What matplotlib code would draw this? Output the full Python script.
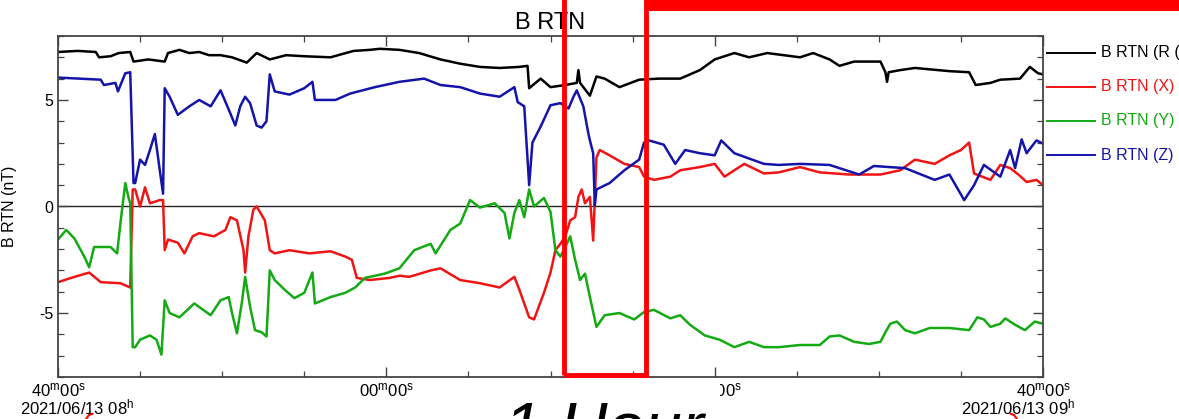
import matplotlib
matplotlib.use('Agg')
import matplotlib.pyplot as plt
from matplotlib.patches import Rectangle, Arc
from matplotlib.lines import Line2D
import matplotlib.transforms as mtransforms

plt.rcParams['font.family'] = ['Liberation Sans', 'DejaVu Sans']
plt.rcParams['mathtext.fontset'] = 'custom'
plt.rcParams['mathtext.rm'] = 'Liberation Sans'
plt.rcParams['mathtext.it'] = 'Liberation Sans:italic'
plt.rcParams['axes.unicode_minus'] = False

# time in minutes after 2021/06/13 08:40:00, field in nT
t_r = [0, 1.2, 2.3, 2.5, 3.2, 3.7, 4.4, 4.6, 5.5, 6.5, 6.7, 7.4, 8.0, 8.6, 9.2, 9.9,
       10.6, 11.5, 12.1, 12.9, 13.9, 15.0, 16.6, 18.0, 19.0, 19.6, 20.8, 22.0, 23.3,
       24.5, 25.7, 26.9, 28.1, 28.6, 28.7, 29.4, 30.0, 30.9, 31.6, 31.7, 31.8, 32.4,
       32.8, 33.3, 34.2, 35.4, 36.6, 37.9, 39.1, 40.0, 41.2, 42.1, 43.2, 45.2, 46.0,
       47.0, 47.6, 48.5, 50.1, 50.4, 50.5, 50.6, 51.3, 52.2, 54.3, 55.5, 55.9, 56.8,
       57.4, 58.6, 59.2, 59.7, 60.0]
b_r = [7.25, 7.3, 7.25, 7.0, 7.05, 7.2, 7.25, 6.8, 6.9, 6.8, 7.2, 7.35, 7.2, 7.25, 7.1, 7.1,
       7.0, 6.75, 7.2, 6.9, 7.1, 7.05, 7.0, 7.3, 7.35, 7.4, 7.35, 7.2, 6.9,
       6.7, 6.55, 6.5, 6.55, 6.6, 5.55, 6.0, 5.6, 5.7, 5.8, 6.4, 5.8, 5.2,
       6.1, 6.0, 5.6, 5.95, 6.0, 6.0, 6.4, 6.9, 7.2, 7.0, 7.2, 7.0, 7.2,
       6.9, 6.6, 6.8, 6.8, 6.3, 5.85, 6.3, 6.4, 6.5, 6.35, 6.3, 5.7, 5.8,
       5.95, 6.0, 6.55, 6.25, 6.2]

t_x = [0, 0.8, 1.9, 2.6, 3.8, 4.4, 4.55, 4.7, 5.0, 5.3, 5.6, 6.2, 6.4, 6.5, 6.7, 7.3,
       7.7, 8.2, 8.6, 9.5, 10.2, 10.5, 10.9, 11.3, 11.4, 11.6, 11.9, 12.1, 12.6, 12.9,
       13.2, 14.1, 15.3, 16.6, 17.5, 17.9, 18.2, 19.0, 20.2, 20.8, 21.4, 22.7, 23.3,
       24.5, 25.7, 26.9, 27.8, 28.1, 28.7, 29.0, 29.6, 30.0, 30.3, 30.6, 30.9, 31.2,
       31.5, 31.7, 31.9, 32.1, 32.4, 32.6, 32.8, 33.0, 33.6, 34.5, 35.4, 35.7, 36.3,
       37.3, 37.9, 39.1, 40.0, 40.6, 41.8, 43.0, 43.9, 45.2, 46.4, 48.2, 50.1, 51.3,
       52.2, 53.4, 54.3, 55.0, 55.5, 55.8, 56.8, 57.4, 58.0, 58.5, 59.0, 59.6, 60.0]
b_x = [-3.55, -3.35, -3.1, -3.55, -3.6, -3.8, 0.8, 0.8, 0.0, 0.9, 0.15, 0.3, 0.3, -2.05, -1.55, -1.7,
       -2.2, -1.4, -1.25, -1.4, -1.1, -0.5, -0.65, -2.05, -3.1, -1.4, -0.15, 0.0, -0.65, -2.05,
       -2.2, -2.05, -2.2, -2.1, -2.35, -2.5, -3.35, -3.45, -3.35, -3.25, -3.3, -3.0, -2.9,
       -3.45, -3.6, -3.8, -3.3, -3.9, -5.2, -5.3, -4.05, -3.1, -2.05, -1.75, -1.4, -0.65,
       -0.5, 0.45, 0.8, 0.15, 0.45, -1.6, 2.3, 2.65, 2.4, 2.0, 1.85, 1.4, 1.25,
       1.4, 1.7, 1.85, 2.0, 1.4, 2.0, 1.55, 1.6, 1.85, 1.6, 1.5, 1.5, 1.7,
       2.2, 2.0, 2.4, 2.65, 3.0, 1.55, 1.25, 1.95, 1.8, 1.5, 1.15, 1.25, 1.0]

t_y = [0, 0.5, 1.0, 1.6, 1.9, 2.2, 3.2, 3.6, 3.8, 4.1, 4.3, 4.4, 4.55, 4.7, 5.0, 5.6,
       6.0, 6.3, 6.5, 6.8, 7.4, 8.3, 9.3, 9.9, 10.4, 10.6, 10.9, 11.2, 11.4, 11.7,
       12.0, 12.4, 12.7, 12.9, 13.2, 13.8, 14.4, 15.0, 15.5, 15.65, 16.6, 17.5, 18.1,
       18.7, 19.9, 20.8, 21.7, 22.7, 23.0, 23.9, 24.5, 25.1, 25.7, 26.6, 27.2, 27.5,
       27.8, 28.1, 28.4, 28.7, 29.0, 29.6, 30.0, 30.3, 30.6, 30.9, 31.2, 31.5, 31.8,
       32.1, 32.4, 32.7, 32.8, 33.3, 34.2, 35.1, 35.7, 36.3, 37.3, 37.9, 38.5, 39.4,
       40.3, 41.2, 42.1, 43.0, 43.9, 45.2, 46.4, 47.0, 47.6, 48.5, 49.4, 50.1, 50.4,
       50.7, 51.1, 51.6, 52.2, 53.1, 54.3, 55.5, 56.0, 56.4, 56.8, 57.4, 57.7, 58.3,
       58.9, 59.5, 60.0]
b_y = [-1.55, -1.1, -1.5, -2.35, -2.85, -1.9, -1.9, -2.2, -0.8, 1.1, 0.4, 0.15, -6.6, -6.6, -6.25, -6.05,
       -6.25, -6.95, -4.4, -5.0, -5.2, -4.55, -5.1, -4.4, -4.25, -5.0, -5.95, -4.5, -3.3, -4.7,
       -5.8, -5.9, -6.1, -3.0, -3.45, -3.9, -4.3, -4.05, -3.1, -4.55, -4.25, -4.05, -3.8,
       -3.35, -3.15, -2.9, -2.05, -1.75, -2.2, -1.1, -0.8, 0.3, -0.05, 0.15, -0.3, -1.5,
       -0.3, 0.3, -0.5, 0.8, 0.0, 0.4, -0.25, -2.05, -2.35, -1.9, -1.4, -2.5, -3.45,
       -3.15, -4.25, -5.3, -5.65, -5.1, -5.0, -5.3, -4.95, -4.85, -5.25, -5.1, -5.55, -6.05,
       -6.25, -6.6, -6.35, -6.6, -6.6, -6.5, -6.5, -6.1, -6.05, -6.35, -6.45, -6.35, -5.9,
       -5.5, -5.4, -5.8, -5.95, -5.7, -5.7, -5.8, -5.2, -5.3, -5.65, -5.5, -5.25, -5.55,
       -5.8, -5.4, -5.5]

t_z = [0, 2.6, 2.8, 3.5, 3.65, 4.1, 4.4, 4.6, 4.7, 5.0, 5.3, 5.6, 5.9, 6.2, 6.4, 6.5,
       6.8, 7.3, 8.0, 8.6, 9.3, 9.9, 10.4, 10.8, 11.1, 11.4, 11.7, 12.1, 12.4, 12.7,
       12.9, 13.2, 14.1, 15.0, 15.5, 15.65, 16.9, 17.8, 19.3, 20.8, 22.3, 23.3, 24.5,
       25.7, 26.9, 27.8, 28.0, 28.4, 28.7, 28.9, 29.4, 30.0, 30.6, 31.1, 31.4, 31.6,
       32.0, 32.3, 32.4, 32.6, 32.7, 32.8, 33.6, 34.5, 35.4, 35.7, 36.0, 36.9, 37.6,
       38.2, 39.1, 40.0, 40.4, 41.2, 42.1, 43.0, 43.9, 45.2, 47.0, 48.8, 49.7, 51.6,
       53.4, 54.3, 55.2, 55.8, 56.4, 57.4, 58.0, 58.3, 58.7, 59.0, 59.6, 60.0]
b_z = [6.05, 5.95, 5.7, 5.8, 5.4, 6.25, 6.3, 1.1, 1.1, 2.2, 1.95, 2.65, 3.4, 1.7, 0.6, 5.55,
       5.15, 4.3, 4.7, 5.0, 4.7, 5.45, 4.55, 3.8, 4.7, 5.15, 4.85, 3.8, 3.7, 4.0,
       6.2, 5.4, 5.25, 5.55, 5.85, 5.0, 5.0, 5.3, 5.6, 5.85, 6.0, 5.7, 5.6,
       5.3, 5.15, 5.6, 4.9, 4.7, 1.0, 3.0, 3.75, 4.75, 4.85, 4.6, 5.15, 5.45,
       4.7, 3.45, 3.1, 2.5, 0.05, 0.8, 1.1, 1.7, 2.2, 3.0, 3.1, 2.9, 2.0,
       2.65, 2.5, 2.4, 3.1, 2.5, 2.25, 2.0, 1.95, 2.0, 1.95, 1.5, 1.9, 1.8,
       1.25, 1.5, 0.3, 1.0, 1.95, 1.4, 2.65, 1.8, 3.15, 2.5, 3.1, 2.95]

series = [
    ('B RTN (R (nT))', t_r, b_r, '#000000'),
    ('B RTN (X)', t_x, b_x, '#f01414'),
    ('B RTN (Y)', t_y, b_y, '#14aa14'),
    ('B RTN (Z)', t_z, b_z, '#1414aa'),
]

xtick_pos = [0, 20, 40, 60]
xtick_top = [r'40$^{\rm m}$00$^{\rm s}$', r'00$^{\rm m}$00$^{\rm s}$',
             r'20$^{\rm m}$00$^{\rm s}$', r'40$^{\rm m}$00$^{\rm s}$']
xtick_date = [r'2021/06/13 08$^{\rm h}$', '', '', r'2021/06/13 09$^{\rm h}$']

W, H = 1179, 419


def fx(x):
    return x / W


def fy(y):
    return 1 - y / H


fig = plt.figure(figsize=(W / 100, H / 100), dpi=100)
ax = fig.add_axes([fx(58), fy(377), fx(1043) - fx(58), fy(36) - fy(377)])

for name, t, b, c in series:
    ax.plot(t, b, color=c, linewidth=1.8)

ax.axhline(0, color='#222222', linewidth=1.0, zorder=1)

ax.set_xlim(0, 60)
ax.set_ylim(-8, 8)
ax.set_yticks([-5, 0, 5])
ax.set_yticks(range(-8, 9), minor=True)
ax.set_xticks(xtick_pos)
ax.set_xticks(range(0, 61, 5), minor=True)
ax.set_xticklabels([])
ax.tick_params(which='both', direction='in', top=True, right=True,
               color='#444444', labelsize=11.5)
ax.tick_params(which='major', length=7, width=1.0)
ax.tick_params(which='minor', length=4, width=0.9)
for s in ax.spines.values():
    s.set_color('#444444')
    s.set_linewidth(1.3)

ax.set_ylabel('B RTN (nT)', fontsize=11.5)
ax.yaxis.set_label_coords(-0.042, 0.5)
ax.set_title('B RTN', fontsize=17, pad=5)

# x tick labels
trans = mtransforms.blended_transform_factory(ax.transData, fig.transFigure)
for xp, top in zip(xtick_pos, xtick_top):
    ax.text(xp, fy(390), top, transform=trans, ha='center', va='center', fontsize=12)
xshift = [1.15, 0, 0, -1.5]
for xp, date, dx in zip(xtick_pos, xtick_date, xshift):
    if date:
        ax.text(xp + dx, fy(407), date, transform=trans, ha='center', va='center',
                fontsize=12)

# legend on the right
leg_y = [53, 87, 121, 155]
for (name, t, b, c), ly in zip(series, leg_y):
    fig.add_artist(Line2D([fx(1047), fx(1095)], [fy(ly), fy(ly)], color=c, linewidth=1.4))
    fig.text(fx(1101), fy(ly), name, color=c, fontsize=11.5, va='center', ha='left')

# annotation overlays
fig.add_artist(Rectangle((fx(488), 0), fx(720) - fx(488), fy(378), transform=fig.transFigure,
                         facecolor='white', edgecolor='none', zorder=5))
red = '#ff0000'
fig.add_artist(Rectangle((fx(563.5), fy(375)), fx(645.5) - fx(563.5), fy(0) - fy(375) + 0.05,
                         transform=fig.transFigure, facecolor='none', edgecolor=red,
                         linewidth=3.5, zorder=6, clip_on=False))
fig.add_artist(Rectangle((fx(645), fy(11)), 1 - fx(645) + 0.02, 0.05,
                         transform=fig.transFigure, facecolor=red, edgecolor='none', zorder=6))
fig.text(fx(604), fy(400), '1 Hour', fontsize=48, style='italic', ha='center', va='top',
         zorder=7)
fig.add_artist(Line2D([fx(86), fx(89), fx(92)], [fy(419), fy(415), fy(414)],
                      color=red, linewidth=1.5))
fig.add_artist(Line2D([fx(1011), fx(1014), fx(1017)], [fy(414), fy(415), fy(419)],
                      color=red, linewidth=1.5))

fig.savefig('out.png', dpi=100, facecolor='white')
